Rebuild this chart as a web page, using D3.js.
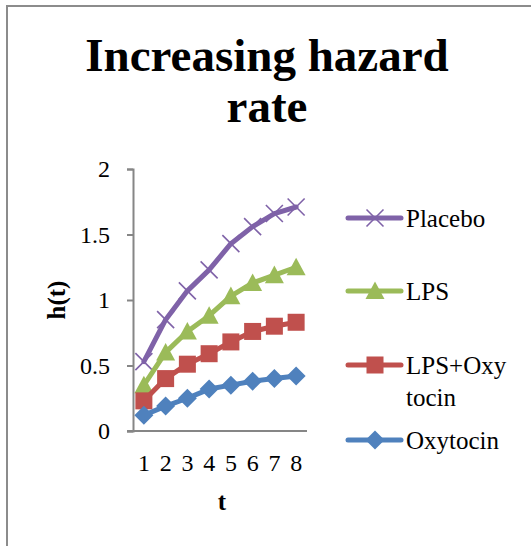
<!DOCTYPE html>
<html>
<head>
<meta charset="utf-8">
<script src="https://cdn.jsdelivr.net/npm/d3@7"></script>
<style>
  html, body { margin: 0; padding: 0; background: #fff; }
  svg { display: block; font-family: "Liberation Serif", "Times New Roman", serif; }
</style>
</head>
<body>
<svg id="chart" width="531" height="546"></svg>
<script>
// Hazard rate h(t) by time step t for each treatment group
const periods = [1, 2, 3, 4, 5, 6, 7, 8];
const seriesNames = ["Placebo", "LPS", "LPS+Oxytocin", "Oxytocin"];
const placebo = [0.53, 0.85, 1.07, 1.23, 1.43, 1.56, 1.66, 1.71];
const lps = [0.35, 0.60, 0.76, 0.88, 1.03, 1.13, 1.19, 1.25];
const lpsOxytocin = [0.23, 0.40, 0.51, 0.59, 0.68, 0.76, 0.80, 0.83];
const oxytocin = [0.12, 0.19, 0.25, 0.32, 0.35, 0.38, 0.40, 0.42];
const yTicks = [0, 0.5, 1, 1.5, 2];
const legendLabels = [["Placebo"], ["LPS"], ["LPS+Oxy", "tocin"], ["Oxytocin"]];

const colors = ["#7F62A8", "#9BBB59", "#C0504D", "#4F81BD"];
const markers = ["x", "triangle", "square", "diamond"];
const values = [placebo, lps, lpsOxytocin, oxytocin];

const svg = d3.select("#chart");

// Outer frame (left and top edges)
svg.append("line").attr("x1", 7).attr("x2", 7).attr("y1", 6).attr("y2", 546)
  .attr("stroke", "#8c8c8c").attr("stroke-width", 2);
svg.append("line").attr("x1", 6).attr("x2", 531).attr("y1", 6).attr("y2", 6)
  .attr("stroke", "#8c8c8c").attr("stroke-width", 2);

// Title
const title = svg.append("text").attr("text-anchor", "middle")
  .attr("font-weight", "bold").attr("font-size", 47).attr("fill", "#000");
title.append("tspan").attr("x", 267).attr("y", 71).text("Increasing hazard");
title.append("tspan").attr("x", 267).attr("y", 122).text("rate");

// Plot area
const plotLeft = 133, plotRight = 307, plotTop = 169, plotBottom = 431;
const x = d3.scaleBand().domain(periods).range([plotLeft, plotRight]);
const y = d3.scaleLinear().domain([0, 2]).range([plotBottom, plotTop]);

// Y axis
const yAxis = svg.append("g").attr("transform", `translate(${plotLeft},0)`)
  .call(d3.axisLeft(y).tickValues(yTicks).tickSize(6).tickPadding(17).tickFormat(d3.format("")));
yAxis.select(".domain").attr("stroke", "#868686").attr("stroke-width", 2);
yAxis.selectAll(".tick line").attr("stroke", "#868686").attr("stroke-width", 2);
yAxis.selectAll(".tick text").attr("font-size", 24).attr("fill", "#000")
  .attr("font-family", "Liberation Serif, Times New Roman, serif");

// X axis
const xAxis = svg.append("g").attr("transform", `translate(0,${plotBottom})`)
  .call(d3.axisBottom(x).tickSize(0).tickPadding(23));
xAxis.select(".domain").attr("d", `M${plotLeft - 6},0H${plotRight}`)
  .attr("stroke", "#868686").attr("stroke-width", 2);
xAxis.selectAll(".tick text").attr("font-size", 24).attr("fill", "#000")
  .attr("font-family", "Liberation Serif, Times New Roman, serif");

// Axis titles
svg.append("text").attr("x", 222).attr("y", 510).attr("text-anchor", "middle")
  .attr("font-weight", "bold").attr("font-size", 25).text("t");
svg.append("text").attr("transform", "translate(65,300) rotate(-90)")
  .attr("text-anchor", "middle").attr("font-weight", "bold").attr("font-size", 25).text("h(t)");

// Marker drawing helper
function drawMarker(g, type, cx, cy, color) {
  if (type === "x") {
    const s = 8.5;
    g.append("path").attr("d", `M${cx - s},${cy - s}L${cx + s},${cy + s}M${cx - s},${cy + s}L${cx + s},${cy - s}`)
      .attr("stroke", color).attr("stroke-width", 1.6).attr("fill", "none");
  } else if (type === "triangle") {
    const s = 9.5;
    g.append("path").attr("d", `M${cx},${cy - s}L${cx + s},${cy + s * 0.85}L${cx - s},${cy + s * 0.85}Z`)
      .attr("fill", color);
  } else if (type === "square") {
    const s = 8.5;
    g.append("rect").attr("x", cx - s).attr("y", cy - s).attr("width", 2 * s).attr("height", 2 * s)
      .attr("fill", color);
  } else if (type === "diamond") {
    const s = 9.5;
    g.append("path").attr("d", `M${cx},${cy - s}L${cx + s},${cy}L${cx},${cy + s}L${cx - s},${cy}Z`)
      .attr("fill", color);
  }
}

// Series lines with markers
const line = d3.line()
  .x((d, i) => x(periods[i]) + x.bandwidth() / 2)
  .y(d => y(d));

seriesNames.forEach((name, si) => {
  const g = svg.append("g").attr("class", "series");
  g.append("path").datum(values[si]).attr("d", line)
    .attr("fill", "none").attr("stroke", colors[si]).attr("stroke-width", 5)
    .attr("stroke-linejoin", "round").attr("stroke-linecap", "round");
  values[si].forEach((v, i) => {
    drawMarker(g, markers[si], x(periods[i]) + x.bandwidth() / 2, y(v), colors[si]);
  });
});

// Legend
const legendY = [218, 291, 365, 440];
legendLabels.forEach((lines, i) => {
  const g = svg.append("g");
  g.append("line").attr("x1", 348).attr("x2", 401).attr("y1", legendY[i]).attr("y2", legendY[i])
    .attr("stroke", colors[i]).attr("stroke-width", 5).attr("stroke-linecap", "round");
  drawMarker(g, markers[i], 375, legendY[i], colors[i]);
  const t = g.append("text").attr("font-size", 25).attr("fill", "#000");
  lines.forEach((l, j) => {
    t.append("tspan").attr("x", 406).attr("y", legendY[i] + 9 + j * 32).text(l);
  });
});
</script>
</body>
</html>
